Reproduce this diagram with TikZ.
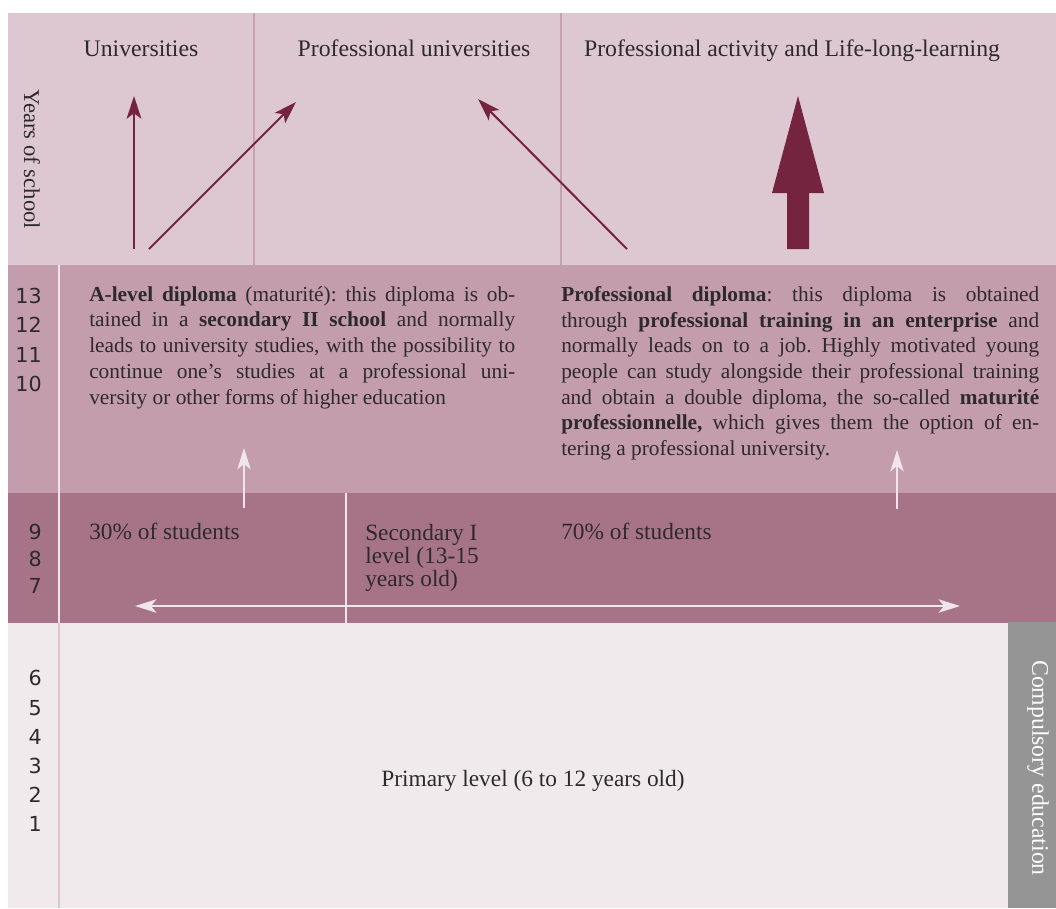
\documentclass[tikz,border=0pt]{standalone}
\usepackage{fontspec}
\setmainfont{Liberation Serif}
\newfontfamily\yearfont{DejaVu Sans}
\usetikzlibrary{arrows.meta}
\definecolor{band-top}{HTML}{DDC8D1}
\definecolor{band-mid}{HTML}{C39DAB}
\definecolor{band-low}{HTML}{A67486}
\definecolor{band-base}{HTML}{F0EAED}
\definecolor{divider}{HTML}{C6A1B0}
\definecolor{pale}{HTML}{F1E4EA}
\definecolor{wine}{HTML}{74243F}
\definecolor{bar-grey}{HTML}{959595}
\definecolor{ink}{HTML}{2E2A2C}
\tolerance=9999
\hbadness=10000
\frenchspacing
\begin{document}
\begin{tikzpicture}[x=0.75pt,y=-0.75pt,
band-line/.style = {draw=divider, line width=1.5pt},
pale-line/.style = {draw=pale, line width=1.5pt},
head/.style = {text=ink, inner sep=0pt, anchor=base, font=\fontsize{17.8}{20}\selectfont},
label/.style = {text=ink, inner sep=0pt, anchor=base west, align=left, font=\fontsize{17.5}{17.3}\selectfont},
para/.style = {text=ink, inner sep=0pt, anchor=north west, align=justify, font=\fontsize{16}{19.3}\selectfont},
year/.style = {text=ink, inner sep=0pt, anchor=east, font=\yearfont\fontsize{15.5}{17}\selectfont},
wine-arrow/.style = {draw=wine, line width=1.5pt, -{Stealth[length=17pt,width=11pt,inset=4pt]}},
pale-arrow/.style = {draw=pale, line width=1.6pt, -{Stealth[length=16pt,width=10pt,inset=4pt]}}
]
\useasboundingbox (0,0) rectangle (1056,908);
% bands
\fill[band-top] (8,13) rectangle (1056,265);
\fill[band-mid] (8,265) rectangle (1056,493);
\fill[band-low] (8,493) rectangle (1056,623);
\fill[band-base] (8,623) rectangle (1056,908);
\fill[bar-grey] (1008,622) rectangle (1056,908);
% dividers
\draw[band-line] (254,13) -- (254,265);
\draw[band-line] (561,13) -- (561,265);
\draw[pale-line] (59,265) -- (59,623);
\draw[band-line, draw=band-top] (59,623) -- (59,908);
\draw[pale-line] (346,493) -- (346,623);

% headings
\node[head] (uni) at (141,56) {Universities};
\node[head] (prof-uni) at (414,56) {Professional universities};
\node[head] (prof-act) at (792,56) {Professional activity and Life-long-learning};
\node[head, anchor=center, rotate=-90, font=\fontsize{17}{20}\selectfont] (years) at (32,159) {Years of school};
\node[head, anchor=center, rotate=-90, text=white] (compulsory) at (1038,768) {Compulsory education};

% years of school
\foreach \n/\y in {13/296,12/325,11/355,10/384,9/532,8/559,7/586,6/678,5/708,4/737,3/766,2/795,1/824}
    \node[year] (y\n) at (42,\y) {\n};

% diplomas
\node[para, text width=319.5pt] (a-level) at (89,286)
    {\textbf{A-level diploma} (maturité): this diploma is ob-\linebreak
    tained in a \textbf{secondary II school} and normally\linebreak
    leads to university studies, with the possibility to\linebreak
    continue one's studies at a professional uni-\linebreak
    versity or other forms of higher education};
\node[para, text width=358.5pt] (prof-dipl) at (561,286)
    {\textbf{Professional diploma}: this diploma is obtained\linebreak
    through \textbf{professional training in an enterprise} and\linebreak
    normally leads on to a job. Highly motivated young\linebreak
    people can study alongside their professional training\linebreak
    and obtain a double diploma, the so-called \textbf{maturité}\linebreak
    \textbf{professionnelle,} which gives them the option of en-\linebreak
    tering a professional university.};

% secondary I and primary
\node[label] (share-30) at (89,539) {30\% of students};
\node[label, anchor=north west] (sec-one) at (365,524) {Secondary I\\level (13-15\\years old)};
\node[label] (share-70) at (561,539) {70\% of students};
\node[label, anchor=base] (primary) at (533,786) {Primary level (6 to 12 years old)};

% arrows
\coordinate (uni-from) at (134,249);
\coordinate (uni-to) at (134,96);
\coordinate (cross-from) at (149,249);
\coordinate (cross-to) at (296,102);
\coordinate (back-from) at (627,249);
\coordinate (back-to) at (478,99);
\draw[wine-arrow] (uni-from) -- (uni-to);
\draw[wine-arrow] (cross-from) -- (cross-to);
\draw[wine-arrow] (back-from) -- (back-to);
\coordinate (fat-tip) at (798,96);
\fill[wine] (fat-tip) -- ++(26,97) -- ++(-15,0) -- ++(0,56) -- ++(-22,0) -- ++(0,-56) -- ++(-15,0) -- cycle;

\coordinate (up-left-from) at (244,508);
\coordinate (up-left-to) at (244,448);
\coordinate (up-right-from) at (897,509);
\coordinate (up-right-to) at (897,450);
\coordinate (span-left) at (135,606);
\coordinate (span-right) at (960,606);
\draw[pale-arrow] (up-left-from) -- (up-left-to);
\draw[pale-arrow] (up-right-from) -- (up-right-to);
\draw[pale-arrow, {Stealth[length=16pt,width=10pt,inset=4pt]}-{Stealth[length=16pt,width=10pt,inset=4pt]}] (span-left) -- (span-right);
\end{tikzpicture}
\end{document}
